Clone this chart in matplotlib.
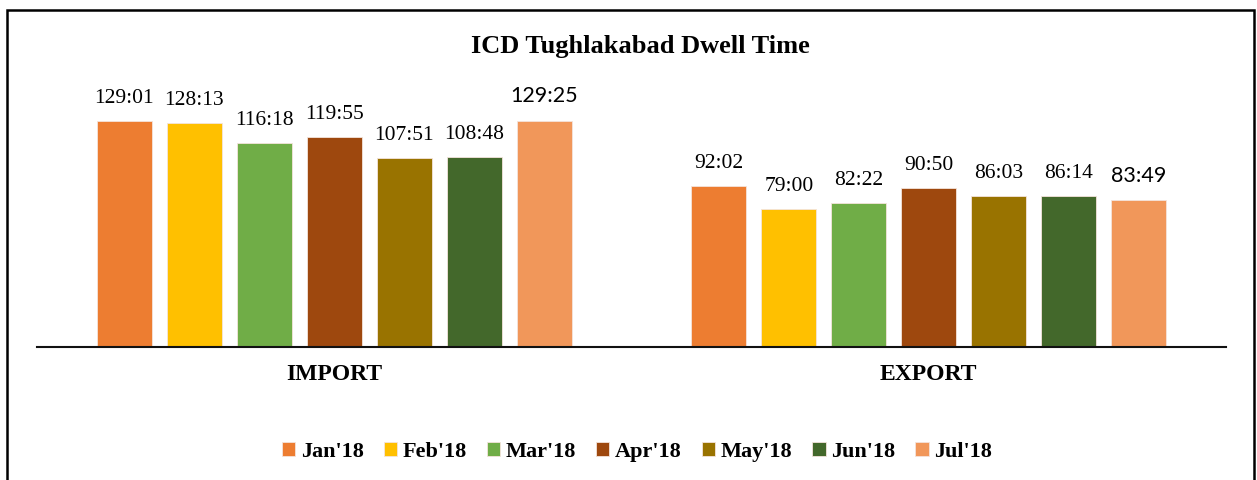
import matplotlib
matplotlib.use("Agg")
from matplotlib import pyplot
from matplotlib.patches import Rectangle

# dwell time per month, hh:mm
months = ["Jan'18", "Feb'18", "Mar'18", "Apr'18", "May'18", "Jun'18", "Jul'18"]
categories = ["IMPORT", "EXPORT"]
import_times = ["129:01", "128:13", "116:18", "119:55", "107:51", "108:48", "129:25"]
export_times = ["92:02", "79:00", "82:22", "90:50", "86:03", "86:14", "83:49"]
colors = ["#ED7D31", "#FFC000", "#70AD47", "#9E480E", "#997300", "#43682B", "#F1975A"]

SERIF = "Liberation Serif"
SANS = "Lato"


def to_hours(s):
    h, m = s.split(":")
    return int(h) + int(m) / 60


W, H = 1257, 480
fig = pyplot.figure(figsize=(W / 100, H / 100), dpi=100)
ax = fig.add_axes([37 / W, 1 - 347 / H, (1226 - 37) / W, (347 - 60) / H])

pitch = 0.1177
width = 0.0925
n = len(months)
for i, month in enumerate(months):
    vals = [to_hours(import_times[i]), to_hours(export_times[i])]
    labels = [import_times[i], export_times[i]]
    xs = [c + (i - (n - 1) / 2) * pitch for c in range(len(categories))]
    ax.bar(xs, vals, width=width, color=colors[i], edgecolor="#f4e4dc",
           linewidth=0.6, label=month)
    last = i == n - 1
    for x, v, lab in zip(xs, vals, labels):
        ax.annotate(lab, xy=(x, v), xytext=(0, 13), textcoords="offset points",
                    ha="center", va="baseline", fontsize=15.5,
                    family=SANS if last else SERIF, color="black")

ax.set_xlim(-0.5, 1.5)
ax.set_ylim(0, 164)
ax.set_yticks([])
ax.set_xticks(range(len(categories)))
ax.set_xticklabels(categories, family=SERIF, fontweight="bold", fontsize=17)
ax.tick_params(axis="x", length=0, pad=12)
for side in ["top", "right", "left"]:
    ax.spines[side].set_visible(False)
ax.spines["bottom"].set_linewidth(1.5)
ax.spines["bottom"].set_color("#111111")

fig.text(640 / W, 1 - 46 / H, "ICD Tughlakabad Dwell Time", ha="center", va="center",
         family=SERIF, fontweight="bold", fontsize=19)

fig.legend(loc="center", bbox_to_anchor=(637 / W, 1 - 452 / H), ncol=n, frameon=False,
           prop={"family": SERIF, "weight": "bold", "size": 16},
           handlelength=0.6, handleheight=0.6, handletextpad=0.25, columnspacing=0.9)

# outer frame, open at the bottom
fig.add_artist(Rectangle((7 / W, -0.05), (1254 - 7) / W, 1.05 - 10 / H,
                         transform=fig.transFigure, fill=False,
                         edgecolor="black", linewidth=1.8))

fig.savefig("out.png", dpi=100)
